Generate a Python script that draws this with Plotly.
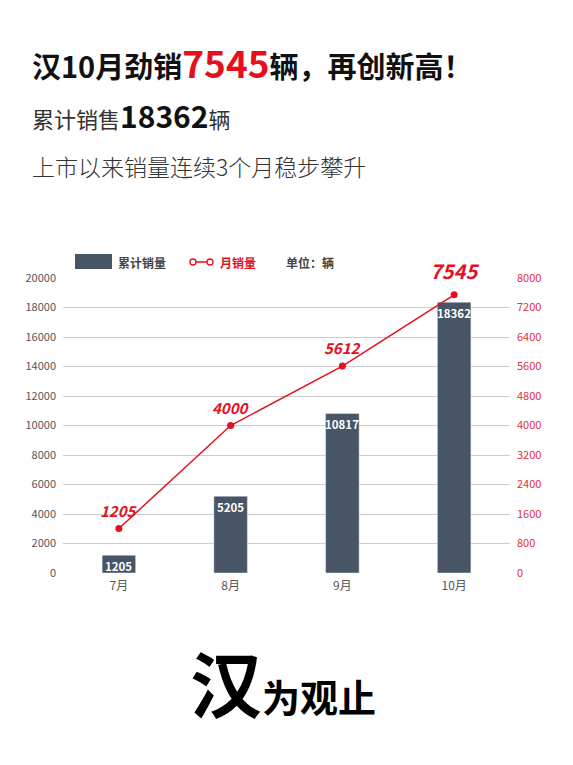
import plotly.graph_objects as go

months = ["7月", "8月", "9月", "10月"]
cumulative = [1205, 5205, 10817, 18362]
monthly = [1205, 4000, 5612, 7545]
left_ticks = [0, 2000, 4000, 6000, 8000, 10000, 12000, 14000, 16000, 18000, 20000]
right_ticks = [0, 800, 1600, 2400, 3200, 4000, 4800, 5600, 6400, 7200, 8000]

W, H = 573, 765
L, R, T, B = 63, 63, 278, 192
PW, PH = W - L - R, H - T - B

BAR = "#475566"
RED = "#e60f1e"
FONT = "Noto Sans CJK SC"


def px(x):
    return (x - L) / PW


def py(y):
    return (H - B - y) / PH


fig = go.Figure()
fig.add_trace(go.Bar(x=months, y=cumulative, marker_color=BAR, width=0.3,
                     name="累计销量", yaxis="y", showlegend=False))
fig.add_trace(go.Scatter(x=months, y=monthly, mode="lines+markers", yaxis="y2",
                         line=dict(color=RED, width=1.5),
                         marker=dict(color=RED, size=7), name="月销量", showlegend=False))

ann = []
# bar labels
for m, v in zip(months, cumulative):
    ann.append(dict(x=m, y=v, xref="x", yref="y", text=f"<b>{v}</b>", showarrow=False,
                    yanchor="top", yshift=-1, font=dict(family=FONT, size=11.5, color="white")))
# line labels
for i, (m, v) in enumerate(zip(months, monthly)):
    big = i == len(months) - 1
    ann.append(dict(x=m, y=v, xref="x", yref="y2", text=f"<b><i>{v}</i></b>", showarrow=False,
                    yanchor="bottom", yshift=6 if not big else 8,
                    font=dict(family=FONT, size=15 if not big else 20, color=RED)))

# titles
ann.append(dict(x=px(30), y=py(62), xref="paper", yref="paper", xanchor="left", yanchor="middle",
                showarrow=False,
                text='<b>汉10月劲销<span style="color:%s;font-size:37px">7545</span>辆，再创新高！</b>' % RED,
                font=dict(family=FONT, size=29, color="#111")))
ann.append(dict(x=px(30), y=py(115), xref="paper", yref="paper", xanchor="left", yanchor="middle",
                showarrow=False,
                text='累计销售<b><span style="color:#111;font-size:30px">18362</span></b>辆',
                font=dict(family=FONT, size=22, color="#333")))
ann.append(dict(x=px(30), y=py(166), xref="paper", yref="paper", xanchor="left", yanchor="middle",
                showarrow=False, text='上市以来销量连续3个月稳步攀升',
                font=dict(family=FONT, size=23, color="#333", weight=300)))

# legend
ann.append(dict(x=px(116), y=py(262), xref="paper", yref="paper", xanchor="left", yanchor="middle",
                showarrow=False, text="<b>累计销量</b>", font=dict(family=FONT, size=12, color="#444")))
ann.append(dict(x=px(218), y=py(262), xref="paper", yref="paper", xanchor="left", yanchor="middle",
                showarrow=False, text="<b>月销量</b>", font=dict(family=FONT, size=12, color=RED)))
ann.append(dict(x=px(284), y=py(262), xref="paper", yref="paper", xanchor="left", yanchor="middle",
                showarrow=False, text="<b>单位：辆</b>", font=dict(family=FONT, size=12, color="#444")))

# logo
ann.append(dict(x=px(283), y=py(680), xref="paper", yref="paper", xanchor="center", yanchor="middle",
                showarrow=False,
                text='<b><span style="font-size:72px">汉</span>为观止</b>',
                font=dict(family=FONT, size=38, color="#000")))

shapes = [
    dict(type="rect", xref="paper", yref="paper", x0=px(75), x1=px(112), y0=py(269), y1=py(254),
         fillcolor=BAR, line=dict(width=0)),
    dict(type="line", xref="paper", yref="paper", x0=px(194), x1=px(208), y0=py(262), y1=py(262),
         line=dict(color=RED, width=1.5)),
    dict(type="circle", xref="paper", yref="paper", x0=px(190), x1=px(196), y0=py(265), y1=py(259),
         fillcolor="white", line=dict(color=RED, width=1.3)),
    dict(type="circle", xref="paper", yref="paper", x0=px(207), x1=px(213), y0=py(265), y1=py(259),
         fillcolor="white", line=dict(color=RED, width=1.3)),
]

fig.update_layout(
    width=W, height=H, margin=dict(l=L, r=R, t=T, b=B),
    paper_bgcolor="white", plot_bgcolor="white",
    showlegend=False, annotations=ann, shapes=shapes,
    font=dict(family=FONT),
    xaxis=dict(type="category", range=[-0.5, 3.5], showgrid=False, showline=False, ticks="",
               tickfont=dict(size=12, color="#555"), ticklabelstandoff=4),
    yaxis=dict(range=[0, 20000], tickvals=left_ticks, ticktext=[str(t) for t in left_ticks],
               showgrid=True, gridcolor="#cccccc", gridwidth=1, zeroline=False, showline=False,
               tickfont=dict(size=11, color="#555"), ticklabelstandoff=6),
    yaxis2=dict(range=[0, 8000], tickvals=right_ticks, ticktext=[str(t) for t in right_ticks],
                overlaying="y", side="right", showgrid=False, zeroline=False, showline=False,
                tickfont=dict(size=11, color="#e0303a"), ticklabelstandoff=6),
)

fig.write_html("out.html")
